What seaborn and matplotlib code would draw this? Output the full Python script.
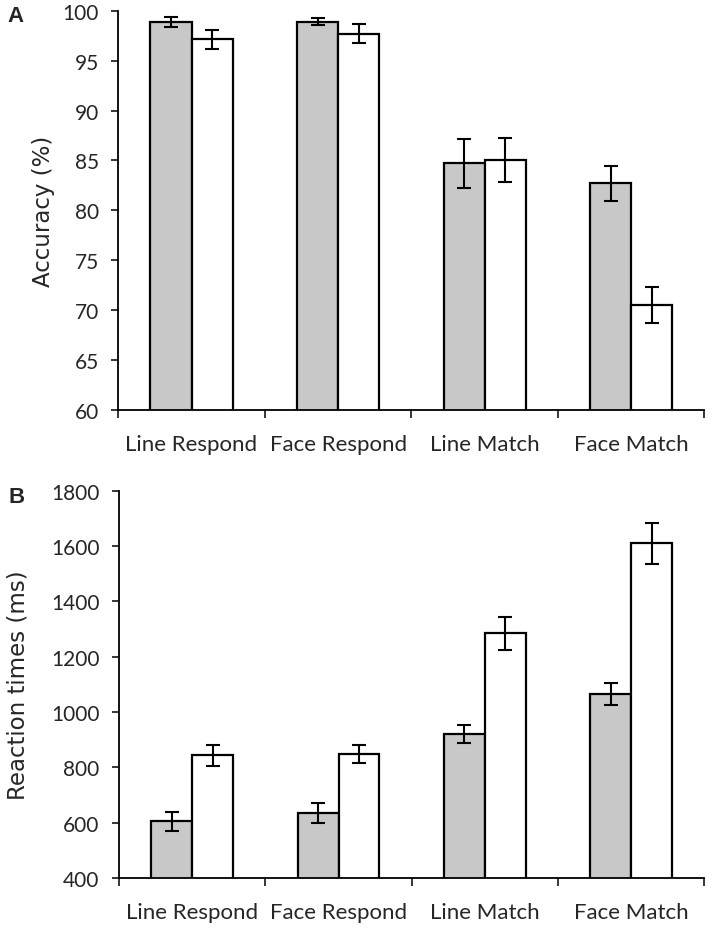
import matplotlib
matplotlib.use("Agg")
import matplotlib.pyplot as plt
import numpy as np
import pandas as pd
import seaborn as sns

# task categories and the two bar groups (grey / white)
tasks = ["Line Respond", "Face Respond", "Line Match", "Face Match"]
groups = ["Group 1", "Group 2"]

# panel A: accuracy (%)
acc_grey = [98.9, 98.9, 84.7, 82.7]
acc_grey_err = [0.5, 0.35, 2.45, 1.75]
acc_white = [97.15, 97.7, 85.05, 70.55]
acc_white_err = [0.95, 0.93, 2.2, 1.8]
acc_ticks = [60, 65, 70, 75, 80, 85, 90, 95, 100]

# panel B: reaction times (ms)
rt_grey = [605, 635, 920, 1066]
rt_grey_err = [34, 36, 33, 39]
rt_white = [843, 848, 1284, 1610]
rt_white_err = [38, 33, 61, 75]
rt_ticks = [400, 600, 800, 1000, 1200, 1400, 1600, 1800]

sns.set_style("ticks")
plt.rcParams["font.family"] = ["Lato", "DejaVu Sans"]


def draw_panel(ax, grey, grey_err, white, white_err, yticks, ylabel, letter, label_x, letter_y):
    df = pd.DataFrame({
        "task": tasks * 2,
        "group": [groups[0]] * len(tasks) + [groups[1]] * len(tasks),
        "value": grey + white,
    })
    sns.barplot(data=df, x="task", y="value", hue="group", order=tasks,
                hue_order=groups, palette=["#c8c8c8", "white"], width=0.56,
                edgecolor="black", linewidth=1.6, errorbar=None, legend=False,
                ax=ax)
    # error bars placed on the drawn bars
    for bars, errs in zip(ax.containers, [grey_err, white_err]):
        xs = [p.get_x() + p.get_width() / 2 for p in bars.patches]
        ys = [p.get_height() for p in bars.patches]
        ax.errorbar(xs, ys, yerr=errs, fmt="none", ecolor="black",
                    elinewidth=1.5, capsize=5, capthick=1.5, zorder=5)

    ax.set_ylim(yticks[0], yticks[-1])
    ax.set_yticks(yticks)
    ax.set_xlim(-0.5, len(tasks) - 0.5)
    ax.set_xticks(range(len(tasks)))
    ax.set_xticklabels(tasks, fontsize=16)
    ax.set_xticks(np.arange(-0.5, len(tasks)), minor=True)
    ax.tick_params(axis="x", which="major", length=0, pad=17)
    ax.tick_params(axis="x", which="minor", length=6, width=1.3, direction="out")
    ax.tick_params(axis="y", length=5, width=1.3, direction="out", pad=9, labelsize=15)
    ax.set_xlabel("")
    ax.set_ylabel(ylabel, fontsize=16.5, family="DejaVu Sans")
    ax.yaxis.set_label_coords(label_x, 0.5)
    sns.despine(ax=ax)
    for side in ["left", "bottom"]:
        ax.spines[side].set_linewidth(1.3)
        ax.spines[side].set_color("black")
    ax.text(-0.189, letter_y, letter, transform=ax.transAxes, fontsize=16,
            fontweight="bold", family="Liberation Sans", va="center", ha="left")


fig = plt.figure(figsize=(7.08, 9.29), dpi=100)
ax_a = fig.add_axes([0.167, 0.5576, 0.828, 0.4298])
ax_b = fig.add_axes([0.168, 0.0538, 0.827, 0.4169])

draw_panel(ax_a, acc_grey, acc_grey_err, acc_white, acc_white_err,
           acc_ticks, "Accuracy (%)", "A", -0.108, 0.989)
draw_panel(ax_b, rt_grey, rt_grey_err, rt_white, rt_white_err,
           rt_ticks, "Reaction times (ms)", "B", -0.152, 0.984)

fig.savefig("out.png", dpi=100)
